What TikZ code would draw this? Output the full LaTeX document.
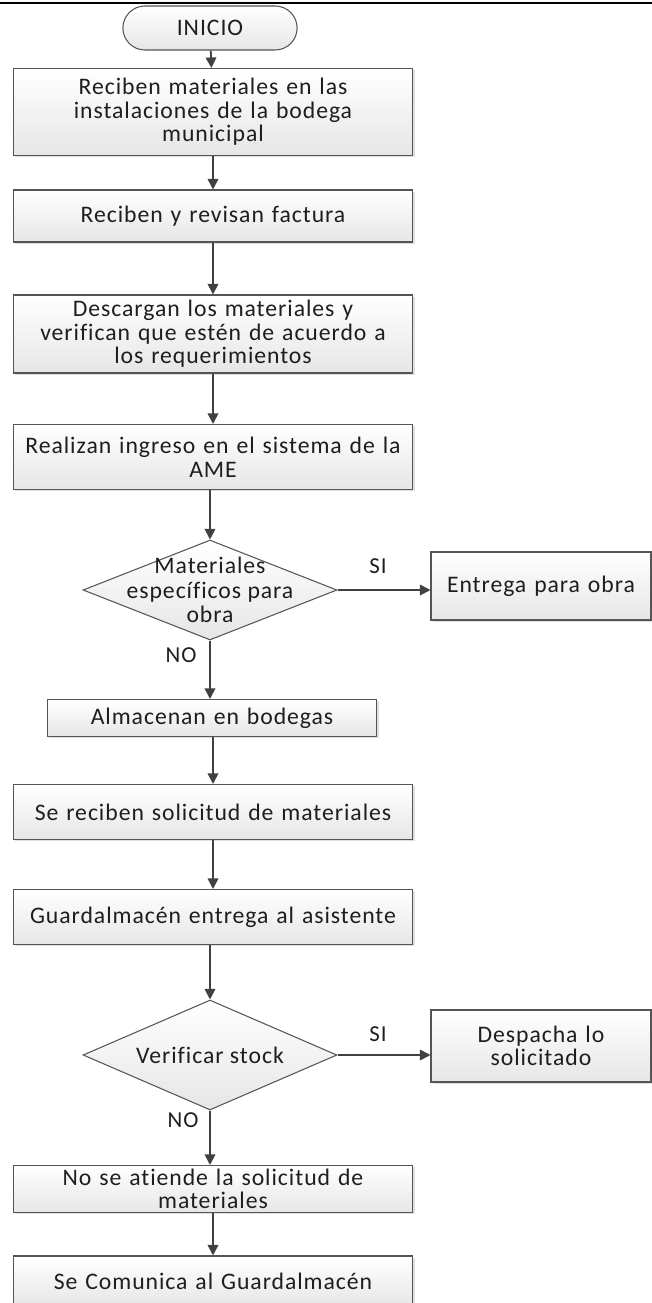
\documentclass[tikz,border=0pt]{standalone}
\usepackage{fontspec}
\setmainfont{Carlito}[LetterSpace=4, Ligatures=NoCommon]
\usepackage{tikz}
\usetikzlibrary{positioning,shapes.misc,shapes.geometric,arrows.meta,shadows}
\definecolor{edge}{RGB}{65, 65, 65}
\definecolor{boxline}{RGB}{85, 85, 85}
\definecolor{boxfill}{RGB}{230, 230, 230}
\definecolor{txt}{RGB}{30, 30, 30}

\begin{document}
\begin{tikzpicture}[x=0.02cm, y=-0.02cm,
  box/.style  = {rectangle, draw=boxline, line width=0.6pt, top color=white, bottom color=boxfill,
                 drop shadow={shadow xshift=1pt, shadow yshift=-1pt, opacity=0.25},
                 text width=7.9cm, align=center, minimum width=8cm, inner sep=1pt,
                 font=\fontsize{13.5}{13.4}\selectfont, text=txt},
  term/.style = {rounded rectangle, draw=boxline, line width=0.6pt, top color=white, bottom color=boxfill,
                 minimum width=3.72cm, minimum height=0.88cm, font=\fontsize{13.5}{13.4}\selectfont, text=txt},
  dec/.style  = {diamond, draw=boxline, line width=0.6pt, top color=white, bottom color=boxfill,
                 inner sep=0pt, minimum width=5.08cm},
  dectxt/.style = {align=center, font=\fontsize{13.5}{14}\selectfont, text=txt, inner sep=0pt},
  arrow/.style = {-{Triangle[length=6pt, width=6pt]}, line width=1pt, color=edge},
  lbl/.style   = {font=\fontsize{13}{13}\selectfont, text=txt, inner sep=1pt}
]
  \useasboundingbox (0,0) rectangle (652,1303);
  \draw[line width=1.2pt, black] (0,3) -- (652,3);

  % ---- Main column ----
  \node[term] at (210, 28)  (inicio)   {INICIO};
  \node[box, minimum height=1.74cm] at (213, 112) (recibir)  {Reciben materiales en las\\instalaciones de la bodega\\municipal};
  \node[box, minimum height=1.04cm] at (213, 216) (factura)  {Reciben y revisan factura};
  \node[box, minimum height=1.56cm] at (213, 334) (descarga) {Descargan los materiales y\\verifican que estén de acuerdo a\\los requerimientos};
  \node[box, minimum height=1.30cm] at (213, 457) (ingreso)  {Realizan ingreso en el sistema de la\\AME};

  % ---- First decision ----
  \node[dec, minimum height=2.0cm] at (210, 590) (especif) {};
  \node[dectxt] at (especif.center) (especiftxt) {Materiales\\específicos para\\obra};
  \node[box, text width=4.3cm, minimum width=4.4cm, minimum height=1.36cm] at (541, 586) (entrega) {Entrega para obra};
  \node[lbl] at (378, 566) (si1) {SI};
  \node[lbl] at (181, 655) (no1) {NO};

  \node[box, text width=6.5cm, minimum width=6.6cm, minimum height=0.74cm] at (212, 718) (almacen) {Almacenan en bodegas};
  \node[box, minimum height=1.10cm] at (213, 812) (solicitud) {Se reciben solicitud de materiales};
  \node[box, minimum height=1.10cm] at (213, 917) (guarda)    {Guardalmacén entrega al asistente};

  % ---- Second decision ----
  \node[dec, minimum height=2.2cm] at (210, 1055) (stock) {};
  \node[dectxt] at (stock.center) (stocktxt) {Verificar stock};
  \node[box, text width=4.3cm, minimum width=4.4cm, minimum height=1.44cm] at (541, 1046) (despacha) {Despacha lo\\solicitado};
  \node[lbl] at (378, 1034) (si2) {SI};
  \node[lbl] at (183, 1120) (no2) {NO};

  \node[box, minimum height=0.94cm] at (213, 1189) (noatiende) {No se atiende la solicitud de\\materiales};
  \node[box, minimum height=1.0cm]  at (213, 1281) (comunica)  {Se Comunica al Guardalmacén};

  % ---- Arrows ----
  \draw[arrow] (inicio)    -- (recibir);
  \draw[arrow] (recibir)   -- (factura);
  \draw[arrow] (factura)   -- (descarga);
  \draw[arrow] (descarga)  -- (ingreso);
  \draw[arrow] (ingreso.south -| especif.north) -- (especif.north);
  \draw[arrow] (especif.east) -- (especif.east -| entrega.west);
  \draw[arrow] (especif.south) -- (especif.south |- almacen.north);
  \draw[arrow] (almacen.south -| solicitud.north) -- (solicitud.north);
  \draw[arrow] (solicitud) -- (guarda);
  \draw[arrow] (guarda.south -| stock.north) -- (stock.north);
  \draw[arrow] (stock.east) -- (stock.east -| despacha.west);
  \draw[arrow] (stock.south) -- (stock.south |- noatiende.north);
  \draw[arrow] (noatiende) -- (comunica);
\end{tikzpicture}
\end{document}
